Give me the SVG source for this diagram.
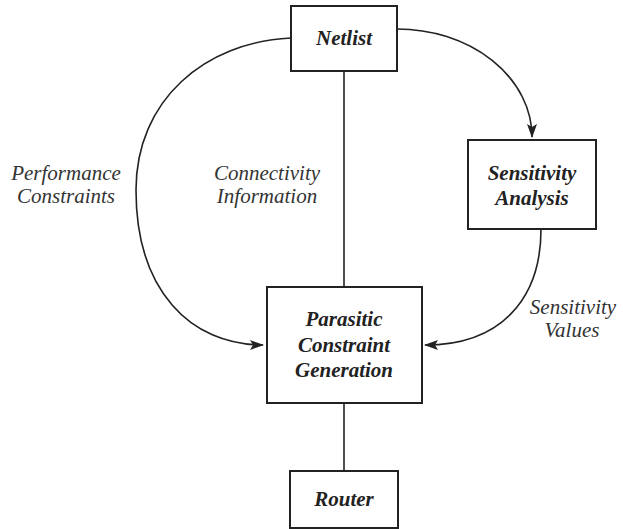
<svg xmlns="http://www.w3.org/2000/svg" width="623" height="529" viewBox="0 0 623 529">
<style>
.box{fill:#fff;stroke:#222;stroke-width:2}
.c{fill:none;stroke:#222;stroke-width:1.6}
.nl{font-family:"Liberation Serif",serif;font-style:italic;font-weight:bold;font-size:21px;fill:#222;text-anchor:middle}
.el{font-family:"Liberation Serif",serif;font-style:italic;font-size:21px;fill:#333;text-anchor:middle}
</style>
<defs>
<marker id="ah" markerWidth="14" markerHeight="10" refX="13" refY="5" orient="auto" markerUnits="userSpaceOnUse">
<path d="M0,0 L14,5 L0,10 L3,5 Z" fill="#222"/>
</marker>
</defs>
<rect width="623" height="529" fill="#fff"/>
<g id="connectors">
<line class="c" x1="344" y1="71" x2="344" y2="287"/>
<line class="c" x1="344" y1="403" x2="344" y2="471"/>
<path class="c" d="M397,29 A135,108 0 0 1 532,137" marker-end="url(#ah)"/>
<path class="c" d="M291,38 C205,42 136,100 136,190 C136,290 190,345 263,345" marker-end="url(#ah)"/>
<path class="c" d="M541,229 C541,300 500,345 425,345" marker-end="url(#ah)"/>
</g>
<g id="labels">
<text class="el" x="66" y="180">Performance</text>
<text class="el" x="66" y="203">Constraints</text>
<text class="el" x="267" y="180">Connectivity</text>
<text class="el" x="267" y="203">Information</text>
<text class="el" x="573" y="314">Sensitivity</text>
<text class="el" x="572" y="337">Values</text>
</g>
<g id="netlist">
<rect class="box" x="291" y="6" width="106" height="65"/>
<text class="nl" x="344" y="45">Netlist</text>
</g>
<g id="sensitivity-analysis">
<rect class="box" x="468" y="140" width="128" height="89"/>
<text class="nl" x="532" y="180">Sensitivity</text>
<text class="nl" x="532" y="205">Analysis</text>
</g>
<g id="parasitic-constraint-generation">
<rect class="box" x="267" y="287" width="155" height="116"/>
<text class="nl" x="344" y="326">Parasitic</text>
<text class="nl" x="344" y="352">Constraint</text>
<text class="nl" x="344" y="377">Generation</text>
</g>
<g id="router">
<rect class="box" x="290" y="471" width="108" height="57"/>
<text class="nl" x="344" y="506">Router</text>
</g>
</svg>
